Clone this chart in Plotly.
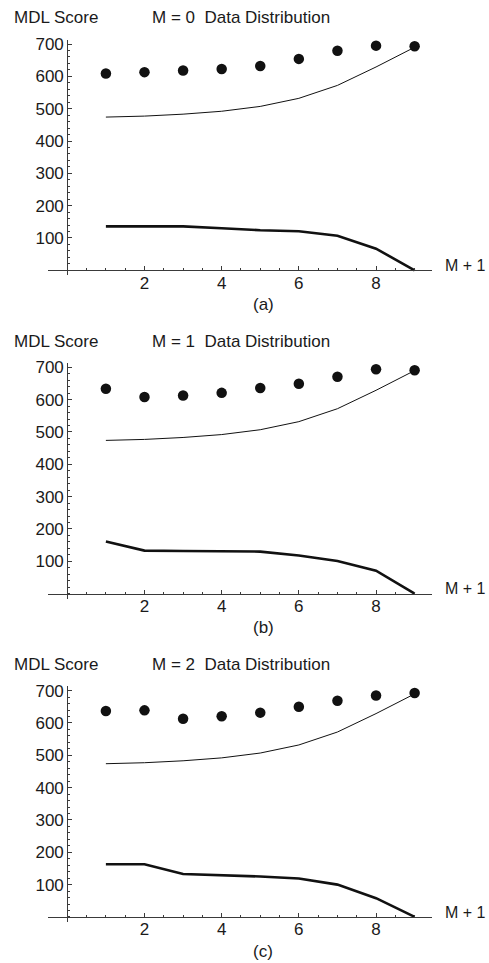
import plotly.graph_objects as go

# ---------------- data ----------------
m_plus_1 = [1, 2, 3, 4, 5, 6, 7, 8, 9]
total_a = [609, 613, 618, 623, 632, 654, 679, 695, 693]
total_b = [634, 608, 613, 621, 636, 649, 671, 694, 691]
total_c = [637, 639, 613, 621, 632, 650, 669, 685, 693]
model_cost = [474, 477, 483, 492, 507, 532, 572, 629, 690]
data_cost_a = [136, 136, 136, 130, 124, 121, 107, 67, 0]
data_cost_b = [161, 133, 132, 132, 130, 118, 101, 71, 0]
data_cost_c = [163, 163, 133, 130, 125, 119, 100, 58, 0]
panel_titles = ["M = 0  Data Distribution", "M = 1  Data Distribution", "M = 2  Data Distribution"]
panel_labels = ["(a)", "(b)", "(c)"]
y_tickvals = [100, 200, 300, 400, 500, 600, 700]
x_tickvals = [2, 4, 6, 8]

panels = [(total_a, data_cost_a), (total_b, data_cost_b), (total_c, data_cost_c)]

# ---------------- layout helpers ----------------
W, H = 489, 963
FONT = "Liberation Sans, Arial, Helvetica, sans-serif"
TXT = "#1a1a1a"
AX = "#3a3a3a"
X_RANGE = [-0.5, 9.45]
Y_RANGE = [-16, 713]
PX_LEFT, PX_RIGHT = 48, 432
PX_X0 = 67.2
STEP = 325
TOP0, BOT0, ZERO0 = 35.0, 271.9, 266.7

def fx(px):
    return px / W

def fy(py):
    return 1 - py / H

fig = go.Figure()
annotations = []

for k, (tot, dat) in enumerate(panels):
    xa = "x" if k == 0 else f"x{k+1}"
    ya = "y" if k == 0 else f"y{k+1}"
    fig.add_trace(go.Scatter(x=m_plus_1, y=model_cost, mode="lines",
                             line=dict(color="#111", width=1), xaxis=xa, yaxis=ya,
                             showlegend=False, hoverinfo="skip"))
    fig.add_trace(go.Scatter(x=m_plus_1, y=dat, mode="lines",
                             line=dict(color="#111", width=2.6), xaxis=xa, yaxis=ya,
                             showlegend=False, hoverinfo="skip"))
    fig.add_trace(go.Scatter(x=m_plus_1, y=tot, mode="markers",
                             marker=dict(color="#111", size=10.5), xaxis=xa, yaxis=ya,
                             showlegend=False, hoverinfo="skip"))

    off = STEP * k
    xkey = "xaxis" if k == 0 else f"xaxis{k+1}"
    ykey = "yaxis" if k == 0 else f"yaxis{k+1}"
    fig.update_layout({
        xkey: dict(domain=[fx(PX_LEFT), fx(PX_RIGHT)], range=X_RANGE,
                   anchor="free", position=fy(ZERO0 + off),
                   showline=True, linecolor=AX, linewidth=1,
                   showgrid=False, zeroline=False,
                   tickmode="array", tickvals=x_tickvals,
                   ticks="inside", ticklen=4, tickwidth=1, tickcolor=AX,
                   ticklabelstandoff=-3,
                   minor=dict(dtick=0.5, tick0=0, ticks="inside", ticklen=2, tickcolor=AX, showgrid=False),
                   tickfont=dict(family=FONT, size=17, color=TXT)),
        ykey: dict(domain=[fy(BOT0 + off), fy(TOP0 + off)], range=Y_RANGE,
                   anchor="free", position=fx(PX_X0),
                   showline=True, linecolor=AX, linewidth=1,
                   showgrid=False, zeroline=False,
                   tickmode="array", tickvals=y_tickvals,
                   ticks="inside", ticklen=4, tickwidth=1, tickcolor=AX,
                   minor=dict(dtick=20, tick0=0, ticks="inside", ticklen=2, tickcolor=AX, showgrid=False),
                   tickfont=dict(family=FONT, size=17, color=TXT)),
    })

    annotations += [
        dict(text="MDL Score", x=fx(12), y=fy(13 + off), xref="paper", yref="paper",
             xanchor="left", yanchor="middle", showarrow=False),
        dict(text=panel_titles[k], x=fx(150), y=fy(13 + off), xref="paper", yref="paper",
             xanchor="left", yanchor="middle", showarrow=False),
        dict(text="M + 1", x=fx(488), y=fy(262 + off), xref="paper", yref="paper",
             xanchor="right", yanchor="middle", showarrow=False, font=dict(size=16)),
        dict(text=panel_labels[k], x=fx(263), y=fy(301 + off), xref="paper", yref="paper",
             xanchor="center", yanchor="middle", showarrow=False),
    ]

fig.update_layout(
    width=W, height=H,
    margin=dict(l=0, r=0, t=0, b=0),
    paper_bgcolor="white", plot_bgcolor="white",
    font=dict(family=FONT, size=17, color=TXT),
    annotations=annotations,
)

fig.write_html("out.html", config={"displayModeBar": False},
               post_script="document.body.style.margin='0';document.body.style.overflow='hidden';")
